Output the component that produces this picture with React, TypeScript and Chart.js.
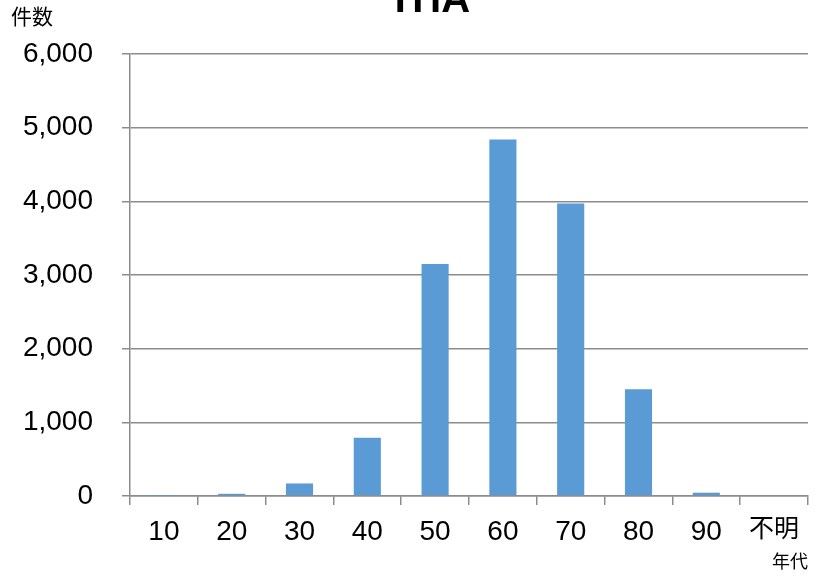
import React, { useEffect, useRef } from "react";
import { Chart, registerables } from "chart.js";

Chart.register(...registerables);

const categories: string[] = ["10", "20", "30", "40", "50", "60", "70", "80", "90", "不明"];
const counts: number[] = [3, 30, 170, 790, 3150, 4840, 3970, 1450, 45, 0];
const yTicks: number[] = [0, 1000, 2000, 3000, 4000, 5000, 6000];
const chartTitle = "THA";
const yAxisTitle = "件数";
const xAxisTitle = "年代";

const FONT = "'Liberation Sans', Arial, 'Noto Sans CJK JP', sans-serif";
const NARROW = "'Liberation Sans Narrow', 'Liberation Sans', 'Noto Sans CJK JP', sans-serif";
const GRID = "#8c8c8c";

export default function App() {
  const ref = useRef<HTMLCanvasElement | null>(null);

  useEffect(() => {
    if (!ref.current) return;
    const textPlugin = {
      id: "extraText",
      afterDraw(chart: any) {
        const ctx = chart.ctx;
        ctx.save();
        ctx.fillStyle = "#000";
        ctx.font = `bold 40px ${FONT}`;
        ctx.textAlign = "center";
        ctx.textBaseline = "alphabetic";
        ctx.fillText(chartTitle, 429, 12);
        ctx.font = `21px ${FONT}`;
        ctx.textAlign = "left";
        ctx.textBaseline = "middle";
        ctx.fillText(yAxisTitle, 11, 18);
        ctx.font = `18px ${FONT}`;
        ctx.textAlign = "right";
        ctx.fillText(xAxisTitle, 808, 563);
        ctx.restore();
      },
    };
    const chart = new Chart(ref.current, {
      type: "bar",
      data: {
        labels: categories,
        datasets: [
          {
            data: counts,
            backgroundColor: "#5B9BD5",
            borderWidth: 0,
            categoryPercentage: 1,
            barPercentage: 0.4,
          },
        ],
      },
      options: {
        responsive: false,
        animation: false,
        devicePixelRatio: 1,
        layout: { padding: { top: 54, right: 13, left: 0, bottom: 0 } },
        plugins: {
          legend: { display: false },
          title: { display: false },
          tooltip: { enabled: false },
        },
        scales: {
          x: {
            offset: true,
            grid: {
              offset: true,
              drawOnChartArea: false,
              drawTicks: true,
              tickLength: 9,
              color: GRID,
              lineWidth: 1.5,
            },
            border: { color: GRID, width: 1.5 },
            ticks: {
              color: "#000",
              font: (c: any) =>
                c.index === categories.length - 1
                  ? { family: FONT, size: 25 }
                  : { family: NARROW, size: 28 },
              padding: 10,
              maxRotation: 0,
              autoSkip: false,
            },
            afterFit(scale: any) {
              scale.height = 577 - 496;
            },
          },
          y: {
            min: 0,
            max: 6000,
            afterBuildTicks(scale: any) {
              scale.ticks = yTicks.map((v) => ({ value: v }));
            },
            grid: {
              color: GRID,
              lineWidth: 1.5,
              drawTicks: true,
              tickLength: 8,
            },
            border: { color: GRID, width: 1.5 },
            ticks: {
              color: "#000",
              font: { family: FONT, size: 28 },
              padding: 29,
              callback: (v: any) => Number(v).toLocaleString("en-US"),
            },
            afterFit(scale: any) {
              scale.width = 130;
            },
          },
        },
      },
      plugins: [textPlugin],
    });
    return () => chart.destroy();
  }, []);

  return (
    <div style={{ position: "absolute", left: 0, top: 0, width: 821, height: 577, background: "#fff" }}>
      <canvas ref={ref} width={821} height={577} />
    </div>
  );
}
